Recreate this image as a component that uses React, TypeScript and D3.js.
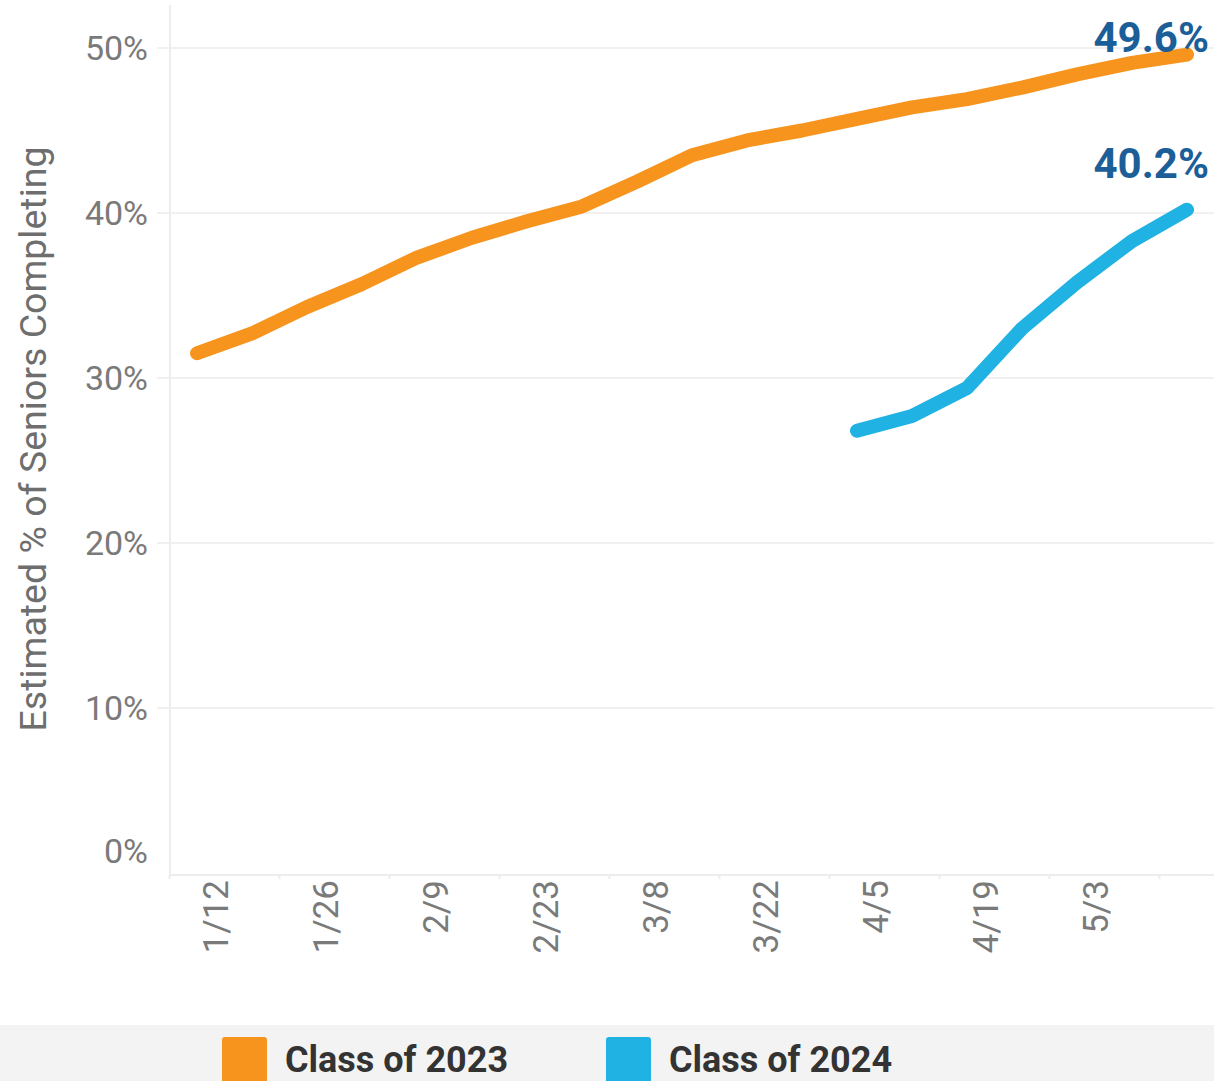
import React from "react";
import * as d3 from "d3";

const dates2023: string[] = [
  "2024-01-12","2024-01-19","2024-01-26","2024-02-02","2024-02-09","2024-02-16","2024-02-23",
  "2024-03-01","2024-03-08","2024-03-15","2024-03-22","2024-03-29","2024-04-05","2024-04-12",
  "2024-04-19","2024-04-26","2024-05-03","2024-05-10","2024-05-17",
];
const class2023: number[] = [31.5, 32.7, 34.3, 35.7, 37.3, 38.5, 39.5, 40.4, 41.9, 43.5, 44.4, 45.0, 45.7, 46.4, 46.9, 47.6, 48.4, 49.1, 49.6];
const dates2024: string[] = ["2024-04-05","2024-04-12","2024-04-19","2024-04-26","2024-05-03","2024-05-10","2024-05-17"];
const class2024: number[] = [26.8, 27.7, 29.4, 33.0, 35.8, 38.3, 40.2];
const xTickDates: string[] = ["2024-01-12","2024-01-26","2024-02-09","2024-02-23","2024-03-08","2024-03-22","2024-04-05","2024-04-19","2024-05-03","2024-05-17"];
const xTickLabels: string[] = ["1/12","1/26","2/9","2/23","3/8","3/22","4/5","4/19","5/3",""];
const yTicks: number[] = [0, 10, 20, 30, 40, 50];
const seriesNames: string[] = ["Class of 2023", "Class of 2024"];
const seriesColors: string[] = ["#F7941E", "#1FB2E2"];
const endLabels: string[] = ["49.6%", "40.2%"];

const W = 1214, H = 1081;
const parse = d3.timeParse("%Y-%m-%d");

export default function App() {
  const x = d3.scaleTime()
    .domain([parse(dates2023[0])!, parse(dates2023[dates2023.length - 1])!])
    .range([197, 1187]);
  const y = d3.scaleLinear().domain([0, 50]).range([873, 48]);
  const font = "Roboto, 'Noto Sans', sans-serif";

  const series = [
    { name: seriesNames[0], color: seriesColors[0], pts: dates2023.map((d, i) => ({ d: parse(d)!, v: class2023[i] })), label: endLabels[0] },
    { name: seriesNames[1], color: seriesColors[1], pts: dates2024.map((d, i) => ({ d: parse(d)!, v: class2024[i] })), label: endLabels[1] },
  ];
  const line = d3.line<{ d: Date; v: number }>().x(p => x(p.d)).y(p => y(p.v));
  const halfWeek = 3.5 * 24 * 3600 * 1000;

  return (
    <svg width={W} height={H} style={{ position: "absolute", left: 0, top: 0, background: "#fff" }} fontFamily={font}>
      {/* gridlines */}
      {yTicks.filter(t => t > 0).map(t => (
        <line key={"g" + t} x1={157} x2={W} y1={y(t)} y2={y(t)} stroke="#f0f0f0" strokeWidth={2} />
      ))}
      {/* axes */}
      <line x1={170} x2={170} y1={5} y2={875} stroke="#ededed" strokeWidth={2} />
      <line x1={170} x2={W} y1={875} y2={875} stroke="#ededed" strokeWidth={2} />
      {xTickDates.map((d, i) => {
        const xx = x(new Date(parse(d)!.getTime() - halfWeek));
        return <line key={"t" + i} x1={xx} x2={xx} y1={875} y2={879} stroke="#ececec" strokeWidth={2} />;
      })}
      {/* y tick labels */}
      {yTicks.map(t => (
        <text key={"y" + t} x={148} y={t === 0 ? y(t) - 22 : y(t)} dy="0.36em" textAnchor="end" fontSize={34} fill="#7a7a7a">
          {t + "%"}
        </text>
      ))}
      {/* x tick labels */}
      {xTickDates.map((d, i) => xTickLabels[i] ? (
        <text key={"x" + i} transform={`translate(${x(parse(d)!) + 18},880) rotate(-90)`} dy="0.36em" textAnchor="end" fontSize={35} fill="#7a7a7a">
          {xTickLabels[i]}
        </text>
      ) : null)}
      {/* y title */}
      <text transform="translate(32,439) rotate(-90)" dy="0.36em" textAnchor="middle" fontSize={37.5} fill="#6e6e6e">
        Estimated % of Seniors Completing
      </text>
      {/* lines */}
      {series.map(s => (
        <path key={s.name} d={line(s.pts) || ""} fill="none" stroke={s.color} strokeWidth={14} strokeLinecap="round" strokeLinejoin="round" />
      ))}
      {/* end labels */}
      {series.map(s => {
        const last = s.pts[s.pts.length - 1];
        const by = Math.max(y(last.v) - 32, 52);
        return (
          <text key={"l" + s.name} x={x(last.d) + 22} y={by} textAnchor="end" fontSize={42} fontWeight="bold" fill="#1B5E98">
            {s.label}
          </text>
        );
      })}
      {/* legend */}
      <rect x={0} y={1025} width={W} height={H - 1025} fill="#f3f3f3" />
      {series.map((s, i) => {
        const lx = [222, 606][i];
        return (
          <g key={"lg" + i}>
            <rect x={lx} y={1037} width={45} height={50} rx={3} fill={s.color} />
            <text x={lx + 63} y={1072} fontSize={36} fontWeight="bold" fill="#333">{s.name}</text>
          </g>
        );
      })}
    </svg>
  );
}
